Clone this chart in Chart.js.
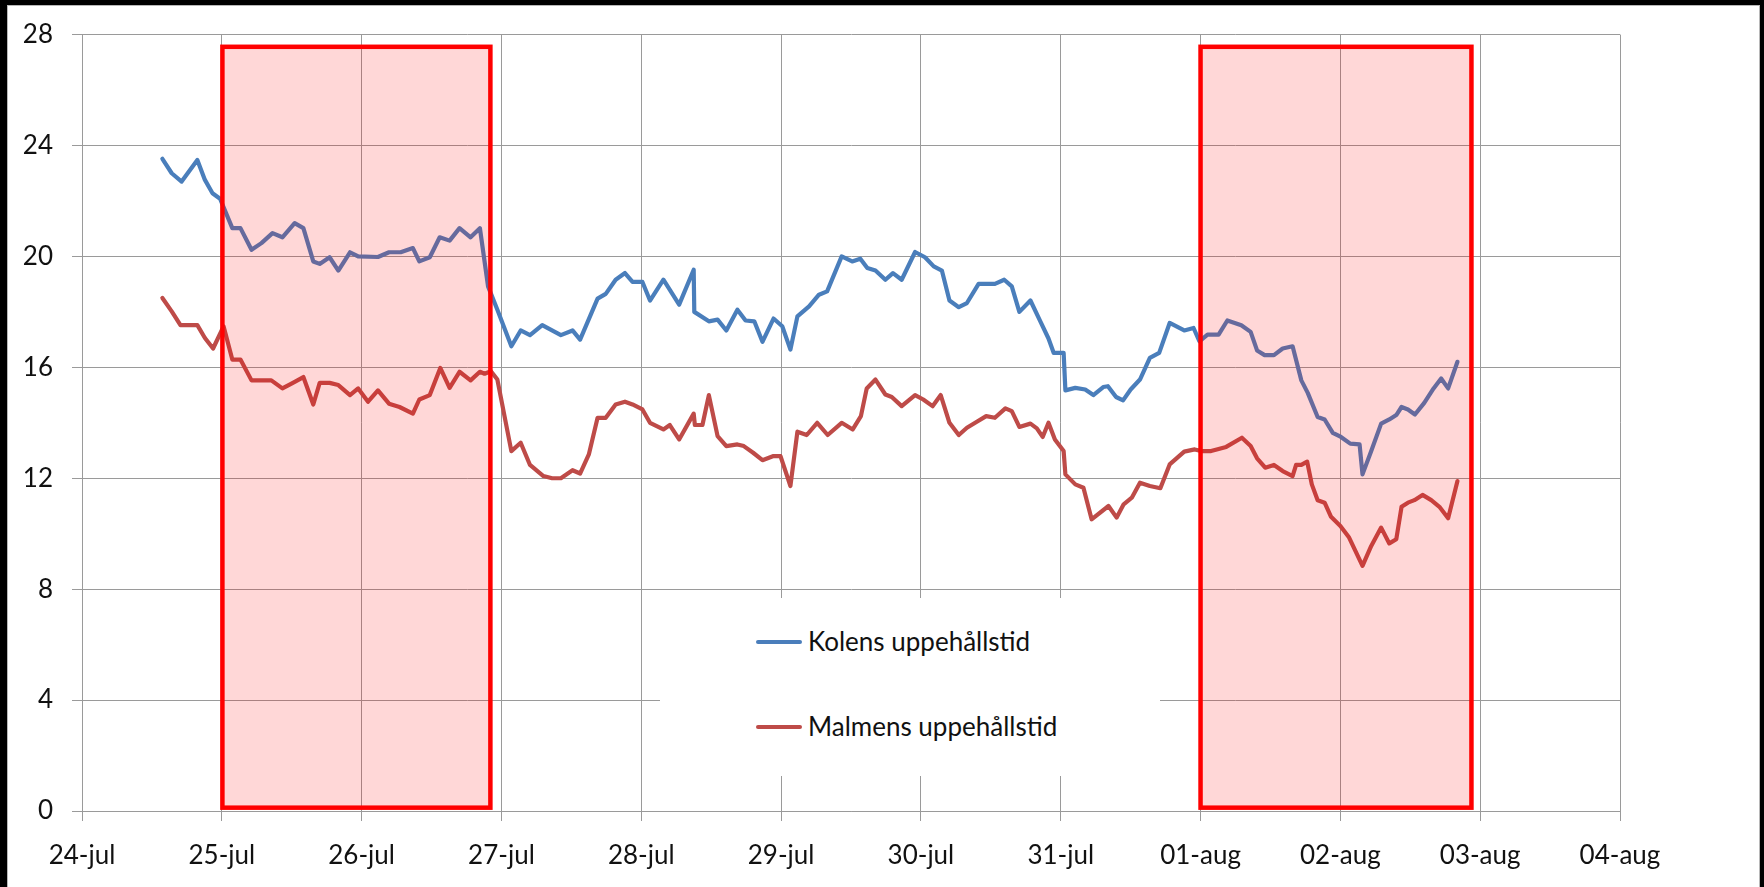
<!DOCTYPE html>
<html>
<head>
<meta charset="utf-8">
<script src="https://cdn.jsdelivr.net/npm/chart.js@4.4.1/dist/chart.umd.min.js"></script>
<style>
  html, body { margin: 0; padding: 0; background: #ffffff; overflow: hidden; }
  #wrap { position: relative; width: 1764px; height: 887px; }
  #c { position: absolute; left: 0; top: 0; }
  #frame { position: absolute; left: 0; top: 0; width: 1764px; height: 887px; box-sizing: border-box;
           border-top: 5px solid #000; border-left: 7px solid #000; border-right: 4px solid #000; pointer-events: none; }
  #frameInner { position: absolute; left: 7px; top: 5px; right: 4px; bottom: 0; border-top: 1px solid #b8b8b8; border-left: 1px solid #b8b8b8; border-right: 1px solid #b8b8b8; pointer-events: none; }
  #legend { position: absolute; left: 660px; top: 598px; width: 500px; height: 178px; background: #ffffff;
            font-family: Lato, "Open Sans", sans-serif; font-size: 26px; color: #111; }
  .item { position: absolute; left: 0; height: 24px; line-height: 24px; white-space: nowrap; }
  .swatch { position: absolute; left: 96px; width: 46px; height: 4px; border-radius: 2px; }
  .txt { position: absolute; left: 148px; top: 0; }
</style>
</head>
<body>
<div id="wrap">
  <canvas id="c" width="1764" height="887"></canvas>
  <div id="legend"></div>
  <div id="frame"></div>
  <div id="frameInner"></div>
</div>
<script>
// ---- Data (time in hours from 24-jul 00:00) ----
const tickLabels = ["24-jul","25-jul","26-jul","27-jul","28-jul","29-jul","30-jul","31-jul","01-aug","02-aug","03-aug","04-aug"];

const seriesNames = ["Kolens uppehållstid", "Malmens uppehållstid"];

const kolensTid = [13.8,15.4,17.1,19.8,21.1,22.4,23.7,25.8,27.2,29.1,30.8,32.7,34.4,36.5,38.0,39.7,40.8,42.5,44.0,46.0,47.4,50.8,52.7,54.7,56.8,57.9,59.7,61.4,63.1,64.8,66.7,68.3,69.7,71.3,73.7,75.3,76.9,79.0,82.2,84.2,85.5,88.5,89.9,91.6,93.2,94.5,96.2,97.5,99.8,102.5,105.0,105.1,107.6,109.1,110.6,112.5,113.9,115.4,116.8,118.7,120.2,121.6,122.8,124.8,126.5,127.9,130.4,132.2,133.6,134.8,136.2,137.9,139.2,140.7,143.0,144.7,146.2,147.6,148.9,150.5,151.9,153.9,156.7,158.3,159.6,160.9,162.8,164.5,165.9,166.8,168.5,168.8,170.5,172.2,173.6,175.3,176.1,177.5,178.7,180.0,181.6,183.3,184.9,186.7,189.2,190.8,191.8,193.2,195.1,196.6,199.0,200.6,201.7,203.0,204.6,206.1,207.8,209.3,210.4,212.1,213.3,214.7,216.1,217.7,219.3,219.8,221.3,223.0,224.4,225.6,226.5,227.6,228.8,230.4,232.0,233.3,234.5,236.1];
const kolensVarde = [23.52,23.0,22.70,23.48,22.76,22.28,22.08,21.02,21.02,20.24,20.48,20.84,20.69,21.20,21.02,19.82,19.73,19.97,19.49,20.15,20.0,19.98,20.15,20.15,20.30,19.82,19.97,20.69,20.57,21.02,20.69,21.02,18.92,18.08,16.76,17.33,17.16,17.52,17.16,17.33,17.0,18.48,18.65,19.16,19.40,19.08,19.08,18.41,19.16,18.26,19.52,18.0,17.66,17.72,17.33,18.08,17.69,17.66,16.92,17.76,17.48,16.64,17.84,18.2,18.62,18.74,20.0,19.82,19.92,19.58,19.49,19.16,19.40,19.16,20.16,19.97,19.64,19.49,18.41,18.17,18.32,19.01,19.01,19.16,18.92,18.0,18.41,17.66,17.04,16.52,16.52,15.17,15.26,15.20,15.0,15.29,15.32,14.93,14.81,15.20,15.56,16.34,16.52,17.6,17.33,17.42,16.94,17.18,17.18,17.69,17.52,17.28,16.61,16.44,16.44,16.68,16.76,15.53,15.08,14.21,14.12,13.64,13.49,13.25,13.22,12.14,12.98,13.97,14.12,14.28,14.57,14.48,14.30,14.72,15.24,15.6,15.24,16.2];

const malmensTid = [13.8,15.4,16.9,19.8,21.1,22.5,24.3,25.8,27.2,29.1,32.5,34.4,36.2,38.0,39.7,40.8,42.5,44.0,46.0,47.4,49.1,50.8,52.7,54.5,56.8,57.9,59.7,61.5,63.1,64.8,66.7,68.3,69.1,70.2,71.3,73.7,75.3,76.9,79.2,80.7,82.2,84.2,85.5,87.0,88.5,89.9,91.6,93.2,94.5,96.2,97.5,99.8,100.9,102.5,105.0,105.2,106.5,107.6,109.1,110.6,112.5,113.6,115.2,116.8,118.7,119.9,121.6,122.8,124.4,126.2,128.0,130.4,132.3,133.7,134.7,136.2,137.9,139.0,140.7,143.0,144.4,146.0,147.4,148.9,150.5,151.9,153.6,155.2,156.7,158.5,159.6,160.9,162.8,163.9,164.9,165.9,167.0,168.5,168.8,170.5,171.9,173.3,176.2,177.6,178.8,180.2,181.6,183.3,185.1,186.7,189.2,191.0,192.1,193.8,196.4,199.1,200.6,201.7,203.1,204.6,206.1,207.8,208.4,209.3,210.3,211.1,212.1,213.3,214.4,216.0,217.5,219.8,221.3,223.0,224.4,225.6,226.5,227.6,228.7,230.1,231.6,233.0,234.5,236.1];
const malmensVarde = [18.50,18.02,17.52,17.52,17.06,16.68,17.48,16.28,16.28,15.53,15.53,15.24,15.44,15.65,14.66,15.44,15.44,15.36,15.0,15.24,14.76,15.17,14.69,14.57,14.33,14.84,15.0,15.98,15.26,15.84,15.53,15.84,15.77,15.86,15.56,12.98,13.28,12.48,12.08,12.0,12.0,12.29,12.17,12.86,14.18,14.18,14.66,14.76,14.66,14.48,14.0,13.76,13.92,13.40,14.33,13.92,13.92,15.0,13.52,13.16,13.22,13.16,12.92,12.65,12.80,12.80,11.72,13.68,13.56,14.0,13.56,14.0,13.76,14.24,15.24,15.56,15.02,14.93,14.60,15.0,14.84,14.60,15.0,14.0,13.56,13.82,14.04,14.24,14.18,14.52,14.42,13.85,13.97,13.80,13.49,14.0,13.40,12.98,12.14,11.78,11.66,10.52,11.0,10.58,11.06,11.30,11.84,11.72,11.64,12.50,12.96,13.04,12.98,12.98,13.13,13.46,13.16,12.72,12.38,12.48,12.26,12.08,12.48,12.48,12.60,11.78,11.21,11.12,10.61,10.28,9.86,8.84,9.56,10.22,9.65,9.80,10.97,11.12,11.21,11.40,11.21,10.97,10.56,11.90];

// Highlighted periods (hours) and their vertical extent (values)
const periodStart = [24.1, 192.0];
const periodEnd = [70.1, 238.5];
const periodTop = 27.56;
const periodBottom = 0.12;

// y axis ticks
const yMin = 0, yMax = 28, yStep = 4;

const colors = ["#4A7EBB", "#BE4B48"];

const toPoints = (t, v) => t.map((x, i) => ({ x: x, y: v[i] }));

const periodPlugin = {
  id: 'periods',
  afterDatasetsDraw(chart) {
    const { ctx, scales: { x, y } } = chart;
    ctx.save();
    for (let i = 0; i < periodStart.length; i++) {
      const x0 = x.getPixelForValue(periodStart[i]);
      const x1 = x.getPixelForValue(periodEnd[i]);
      const y0 = y.getPixelForValue(periodTop);
      const y1 = y.getPixelForValue(periodBottom);
      ctx.fillStyle = 'rgba(255,0,0,0.155)';
      ctx.fillRect(x0, y0, x1 - x0, y1 - y0);
      ctx.lineWidth = 4.5;
      ctx.strokeStyle = '#FF0000';
      ctx.lineJoin = 'miter';
      ctx.strokeRect(x0, y0, x1 - x0, y1 - y0);
    }
    ctx.restore();
  }
};

const tickFont = { family: 'Lato, "Open Sans", sans-serif', size: 26 };

new Chart(document.getElementById('c'), {
  type: 'line',
  data: {
    datasets: [
      { label: seriesNames[0], data: toPoints(kolensTid, kolensVarde), borderColor: colors[0], backgroundColor: colors[0],
        borderWidth: 4.2, pointRadius: 0, tension: 0, borderJoinStyle: 'round', borderCapStyle: 'round', fill: false },
      { label: seriesNames[1], data: toPoints(malmensTid, malmensVarde), borderColor: colors[1], backgroundColor: colors[1],
        borderWidth: 4.2, pointRadius: 0, tension: 0, borderJoinStyle: 'round', borderCapStyle: 'round', fill: false }
    ]
  },
  options: {
    responsive: false,
    animation: false,
    events: [],
    layout: { padding: { top: 32, right: 144, left: 0, bottom: 0 } },
    plugins: { legend: { display: false }, tooltip: { enabled: false }, title: { display: false } },
    scales: {
      x: {
        type: 'linear', min: 0, max: tickLabels.length * 24 - 24,
        afterFit: s => { s.height = 76; },
        ticks: { stepSize: 24, autoSkip: false, maxRotation: 0, color: '#111', font: tickFont, padding: 19,
                 callback: v => tickLabels[Math.round(v / 24)] },
        grid: { color: '#9a9a9a', lineWidth: 1, tickLength: 10, drawTicks: true },
        border: { color: '#9a9a9a', width: 1 }
      },
      y: {
        min: yMin, max: yMax,
        afterFit: s => { s.width = 82; },
        ticks: { stepSize: yStep, color: '#111', font: tickFont, padding: 19 },
        grid: { color: '#9a9a9a', lineWidth: 1, tickLength: 10, drawTicks: true },
        border: { color: '#9a9a9a', width: 1 }
      }
    }
  },
  plugins: [periodPlugin]
});

// Legend (HTML, real text)
const legendEl = document.getElementById('legend');
const legendTops = [31, 116];
seriesNames.forEach((name, i) => {
  const item = document.createElement('div');
  item.className = 'item';
  item.style.top = legendTops[i] + 'px';
  item.style.width = '500px';
  const sw = document.createElement('span');
  sw.className = 'swatch';
  sw.style.background = colors[i];
  sw.style.top = '11px';
  const tx = document.createElement('span');
  tx.className = 'txt';
  tx.textContent = name;
  item.appendChild(sw);
  item.appendChild(tx);
  legendEl.appendChild(item);
});
</script>
</body>
</html>
